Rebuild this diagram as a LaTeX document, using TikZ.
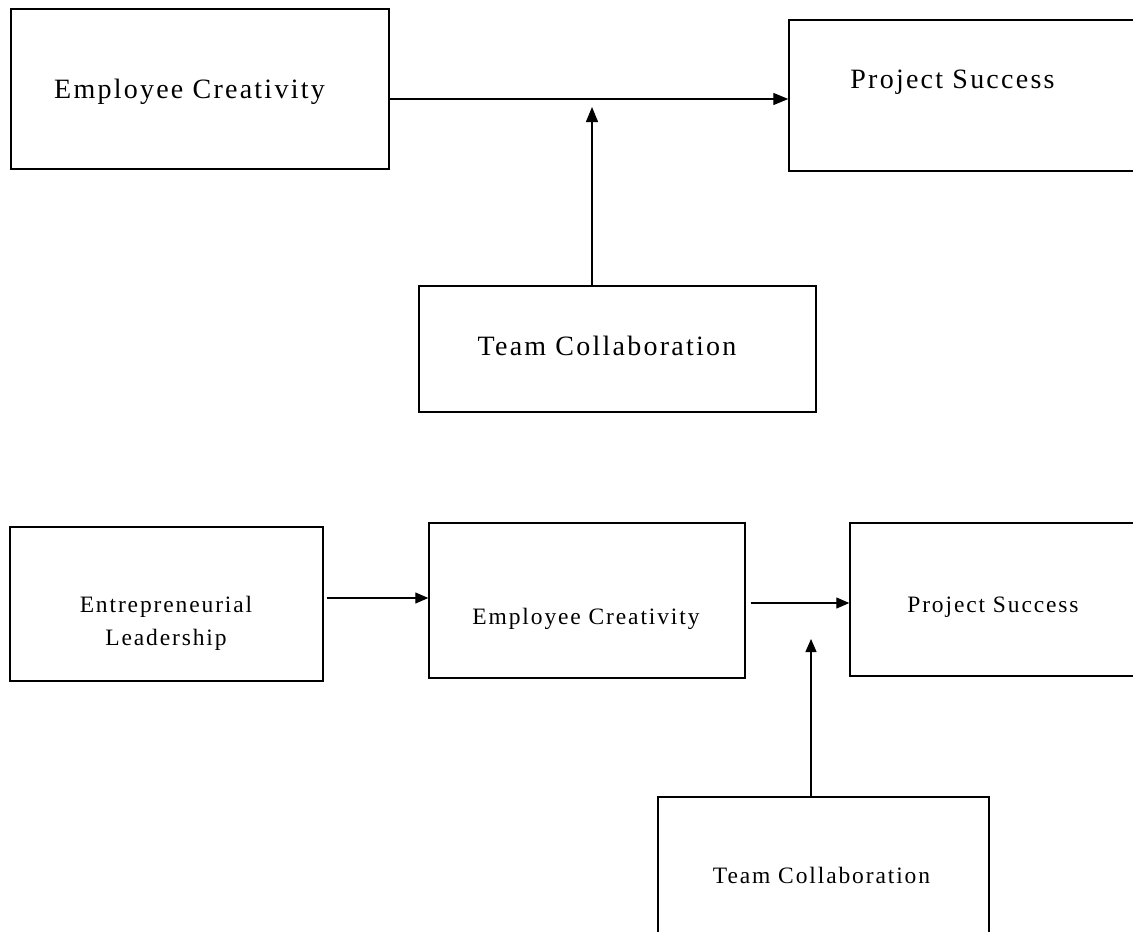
\documentclass[tikz,border=0pt]{standalone}
\usepackage{fontspec}
\setmainfont{Liberation Serif}[LetterSpace=8]
\usetikzlibrary{arrows.meta}
\begin{document}
\begin{tikzpicture}[x=1pt,y=-1pt,
  box/.style={draw, line width=1.4pt, inner sep=0pt, rectangle},
  arr/.style={-{Triangle[length=15pt,width=12pt]}, line width=1.3pt},
  arrs/.style={-{Triangle[length=13pt,width=11pt]}, line width=1.2pt},
  big/.style={inner sep=0pt, anchor=base, font=\fontsize{28}{34}\selectfont},
  small/.style={inner sep=0pt, anchor=base, font=\fontsize{23.5}{33}\selectfont}]
\clip (0,0) rectangle (1133,932);
\fill[white] (0,0) rectangle (1133,932);
% top diagram
\node[box, minimum width=378pt, minimum height=160pt] (ec1) at (200,89) {};
\node[box, minimum width=351pt, minimum height=151pt] (ps1) at (964.5,95.5) {};
\node[box, minimum width=397pt, minimum height=126pt] (tc1) at (617.5,349) {};
\node[big] (ec1t) at (189.5,98) {Employee Creativity};
\node[big] (ps1t) at (952.5,88) {Project Success};
\node[big] (tc1t) at (607,355) {Team Collaboration};
\coordinate (h1) at (0,99);
\coordinate (j1) at (592,107);
\draw[arr] (ec1.east |- h1) -- (ps1.west |- h1);
\draw[arr] (tc1.north -| j1) -- (j1);
% bottom diagram
\node[box, minimum width=313pt, minimum height=154pt] (el) at (166.5,604) {};
\node[box, minimum width=316pt, minimum height=155pt] (ec2) at (587,600.5) {};
\node[box, minimum width=290pt, minimum height=153pt] (ps2) at (995,599.5) {};
\node[box, minimum width=331pt, minimum height=153pt] (tc2) at (823.5,873.5) {};
\node[small, align=center] (elt) at (166,645) {Entrepreneurial\\Leadership};
\node[small] (ec2t) at (586,624) {Employee Creativity};
\node[small] (ps2t) at (993,612) {Project Success};
\node[small] (tc2t) at (821.5,883) {Team Collaboration};
\coordinate (h2) at (0,598);
\coordinate (h3) at (0,603);
\coordinate (j2) at (811,639);
\draw[arrs] ([xshift=3pt]el.east |- h2) -- (ec2.west |- h2);
\draw[arrs] ([xshift=5pt]ec2.east |- h3) -- (ps2.west |- h3);
\draw[arrs] (tc2.north -| j2) -- (j2);
\end{tikzpicture}
\end{document}
